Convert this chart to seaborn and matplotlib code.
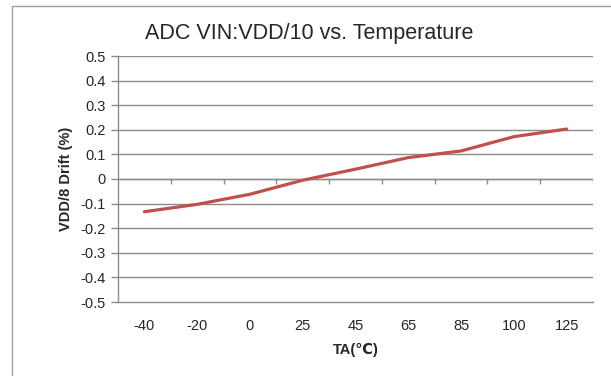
import numpy as np
import pandas as pd
import matplotlib
matplotlib.use("Agg")
import matplotlib.pyplot as plt
from matplotlib.lines import Line2D
import seaborn as sns

temps = ["-40", "-20", "0", "25", "45", "65", "85", "100", "125"]
drift = [-0.133, -0.103, -0.062, -0.005, 0.040, 0.087, 0.114, 0.172, 0.203]
y_ticks = [-0.5, -0.4, -0.3, -0.2, -0.1, 0, 0.1, 0.2, 0.3, 0.4, 0.5]

sns.set_style("white")
plt.rcParams["font.family"] = ["Liberation Sans", "DejaVu Sans"]

df = pd.DataFrame({"pos": np.arange(len(temps)), "drift": drift})

fig = plt.figure(figsize=(6.11, 3.76), dpi=100)
ax = fig.add_axes([118 / 611, 74 / 376, 475 / 611, 246 / 376])

grid_c = "#8c8c8c"
ax.set_ylim(-0.5, 0.5)
ax.set_xlim(-0.5, len(temps) - 0.5)
ax.set_yticks(y_ticks)
ax.set_yticklabels(["0" if v == 0 else f"{v:.1f}" for v in y_ticks])
for v in y_ticks[1:]:
    ax.axhline(v, color=grid_c, lw=1.0, zorder=1)

# category axis crossing at zero, with ticks between categories
ax.axhline(0, color=grid_c, lw=1.0, zorder=2)
bounds = np.arange(len(temps)) + 0.5
ax.vlines(bounds, -0.022, 0, color=grid_c, lw=1.0, zorder=2)

sns.lineplot(data=df, x="pos", y="drift", color="#C0504D", linewidth=2.3, ax=ax, zorder=3)

ax.set_xticks(np.arange(len(temps)))
ax.set_xticklabels(temps)
ax.tick_params(axis="x", length=0, pad=12, labelsize=10.5)
ax.tick_params(axis="y", length=5, width=1, color=grid_c, labelsize=10.5, pad=4, left=True)

for s in ["top", "right"]:
    ax.spines[s].set_visible(False)
for s in ["left", "bottom"]:
    ax.spines[s].set_color(grid_c)
    ax.spines[s].set_linewidth(1.0)

ax.set_xlabel("TA(℃)", fontsize=10.5, fontweight="bold", labelpad=7)
ax.set_ylabel("VDD/8 Drift (%)", fontsize=10.5, fontweight="bold", labelpad=5)
fig.text(309 / 611, 1 - 33 / 376, "ADC VIN:VDD/10 vs. Temperature", ha="center", va="center", fontsize=15.5)

# outer chart frame (partially cropped)
fig.add_artist(Line2D([12 / 611, 12 / 611], [0, 1 - 6 / 376], transform=fig.transFigure, color="#a0a0a0", lw=1))
fig.add_artist(Line2D([12 / 611, 1], [1 - 6 / 376, 1 - 6 / 376], transform=fig.transFigure, color="#a0a0a0", lw=1))

fig.savefig("out.png", dpi=100)
